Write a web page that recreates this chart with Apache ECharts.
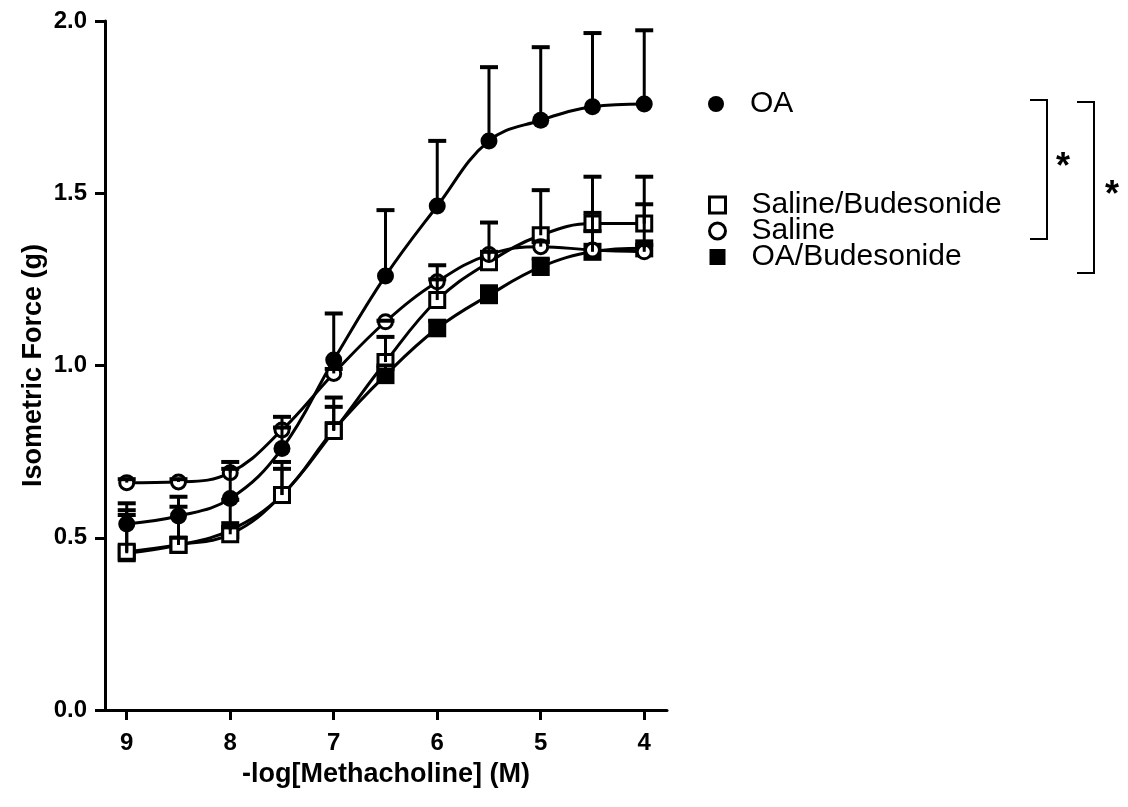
<!DOCTYPE html>
<html>
<head>
<meta charset="utf-8">
<title>Isometric force vs methacholine</title>
<script src="https://cdn.jsdelivr.net/npm/echarts@6/dist/echarts.min.js"></script>
<style>
html, body { margin: 0; padding: 0; background: #fff; }
#chart { width: 1128px; height: 807px; }
</style>
</head>
<body>
<div id="chart"></div>
<script>
// -log[Methacholine] (M)
var doses = [9, 8.5, 8, 7.5, 7, 6.5, 6, 5.5, 5, 4.5, 4];
var xTicks = [9, 8, 7, 6, 5, 4];

// mean isometric force (g) and top of the error bar (mean + SEM)
var oaMean = [0.54, 0.563, 0.614, 0.759, 1.016, 1.26, 1.463, 1.652, 1.712, 1.751, 1.759];
var oaTop = [0.60, 0.619, 0.72, 0.851, 1.151, 1.451, 1.652, 1.866, 1.924, 1.965, 1.973];
var salBudMean = [0.459, 0.48, 0.51, 0.624, 0.81, 1.01, 1.19, 1.30, 1.378, 1.412, 1.412];
var salBudTop = [0.58, 0.59, 0.61, 0.72, 0.907, 1.083, 1.291, 1.415, 1.509, 1.548, 1.548];
var salineMean = [0.66, 0.662, 0.689, 0.813, 0.977, 1.127, 1.243, 1.322, 1.345, 1.335, 1.33];
var salineTop = [0.67, 0.67, 0.70, 0.82, 0.99, 1.13, 1.25, 1.33, 1.36, 1.39, 1.35];
var oaBudMean = [0.455, 0.479, 0.522, 0.624, 0.8125, 0.972, 1.108, 1.204, 1.286, 1.33, 1.34];
var oaBudTop = [0.566, 0.50, 0.53, 0.70, 0.88, 1.0, 1.13, 1.23, 1.31, 1.443, 1.468];

var FONT = "'Liberation Sans', Arial, sans-serif";

function errorBars(params, api) {
  var base = api.coord([api.value(0), api.value(1)]);
  var top = api.coord([api.value(0), api.value(2)]);
  return {
    type: "group",
    children: [
      { type: "line", shape: { x1: base[0], y1: base[1], x2: top[0], y2: top[1] }, style: { stroke: "#000", lineWidth: 3 } },
      { type: "line", shape: { x1: top[0] - 9, y1: top[1], x2: top[0] + 9, y2: top[1] }, style: { stroke: "#000", lineWidth: 4 } }
    ]
  };
}

function groupSeries(name, mean, top, symbol, size, fill) {
  return [
    {
      name: name,
      type: "line",
      smooth: 0.4,
      data: doses.map(function (d, i) { return [d, mean[i]]; }),
      symbol: symbol,
      symbolSize: size,
      showAllSymbol: true,
      lineStyle: { color: "#000", width: 3 },
      itemStyle: { color: fill, borderColor: "#000", borderWidth: fill === "#000" ? 0 : 3 },
      z: 2
    },
    {
      name: name + " SEM",
      type: "custom",
      renderItem: errorBars,
      encode: { x: 0, y: [1, 2] },
      data: doses.map(function (d, i) { return [d, mean[i], top[i]]; }),
      z: 3
    }
  ];
}

var chart = echarts.init(document.getElementById("chart"));

var legendText = { fontFamily: FONT, fontSize: 30, color: "#000", padding: [0, 0, 0, 21] };

var option = {
  animation: false,
  backgroundColor: "#fff",
  textStyle: { fontFamily: FONT },
  grid: { left: 105, right: 461, top: 21, bottom: 97 },
  legend: [
    {
      left: 708, top: 89, padding: 0, orient: "vertical",
      itemWidth: 16, itemHeight: 16, itemGap: 0,
      textStyle: legendText,
      data: [{ name: "OA", icon: "circle", itemStyle: { color: "#000", borderWidth: 0 } }]
    },
    {
      left: 708, top: 190, padding: 0, orient: "vertical",
      itemWidth: 16, itemHeight: 16, itemGap: -4,
      textStyle: legendText,
      data: [
        { name: "Saline/Budesonide", icon: "rect", itemStyle: { color: "#fff", borderColor: "#000", borderWidth: 3 } },
        { name: "Saline", icon: "circle", itemStyle: { color: "#fff", borderColor: "#000", borderWidth: 3 } },
        { name: "OA/Budesonide", icon: "rect", itemStyle: { color: "#000", borderWidth: 0 } }
      ]
    }
  ],
  xAxis: {
    type: "value",
    inverse: true,
    min: 3.78,
    max: 9.21,
    name: "-log[Methacholine] (M)",
    nameLocation: "middle",
    nameGap: 51,
    nameTextStyle: { fontFamily: FONT, fontSize: 27, fontWeight: "bold", color: "#000" },
    splitLine: { show: false },
    axisLine: { onZero: false, lineStyle: { color: "#000", width: 3 } },
    axisTick: { customValues: xTicks, length: 10, lineStyle: { color: "#000", width: 3 } },
    axisLabel: { customValues: xTicks, margin: 21, fontFamily: FONT, fontSize: 24, fontWeight: "bold", color: "#000" }
  },
  yAxis: {
    type: "value",
    min: 0,
    max: 2,
    interval: 0.5,
    name: "Isometric Force (g)",
    nameLocation: "middle",
    nameGap: 58,
    nameTextStyle: { fontFamily: FONT, fontSize: 27, fontWeight: "bold", color: "#000" },
    splitLine: { show: false },
    axisLine: { show: true, lineStyle: { color: "#000", width: 3 } },
    axisTick: { show: true, length: 10, lineStyle: { color: "#000", width: 3 } },
    axisLabel: {
      margin: 18, fontFamily: FONT, fontSize: 24, fontWeight: "bold", color: "#000",
      formatter: function (v) { return v.toFixed(1); }
    }
  },
  graphic: [
    { type: "polyline", shape: { points: [[1030, 100], [1047, 100], [1047, 239], [1030, 239]] }, style: { stroke: "#000", lineWidth: 2, fill: null } },
    { type: "polyline", shape: { points: [[1077, 102], [1094, 102], [1094, 273], [1077, 273]] }, style: { stroke: "#000", lineWidth: 2, fill: null } },
    { type: "text", x: 1063, y: 168, style: { text: "*", font: "bold 36px " + FONT, fill: "#000", align: "center", verticalAlign: "middle" } },
    { type: "text", x: 1112, y: 196, style: { text: "*", font: "bold 36px " + FONT, fill: "#000", align: "center", verticalAlign: "middle" } }
  ],
  series: [].concat(
    groupSeries("OA/Budesonide", oaBudMean, oaBudTop, "rect", 18, "#000"),
    groupSeries("Saline/Budesonide", salBudMean, salBudTop, "rect", 15, "#fff"),
    groupSeries("Saline", salineMean, salineTop, "circle", 14, "#fff"),
    groupSeries("OA", oaMean, oaTop, "circle", 17, "#000")
  )
};

chart.setOption(option);
</script>
</body>
</html>
